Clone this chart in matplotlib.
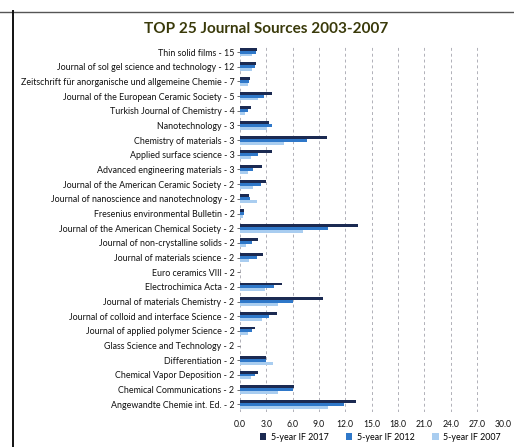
import matplotlib
matplotlib.use("Agg")
import matplotlib.pyplot as plt
from matplotlib.lines import Line2D
import numpy as np

journals = [
    "Thin solid films - 15",
    "Journal of sol gel science and technology - 12",
    "Zeitschrift für anorganische und allgemeine Chemie - 7",
    "Journal of the European Ceramic Society - 5",
    "Turkish Journal of Chemistry - 4",
    "Nanotechnology - 3",
    "Chemistry of materials - 3",
    "Applied surface science - 3",
    "Advanced engineering materials - 3",
    "Journal of the American Ceramic Society - 2",
    "Journal of nanoscience and nanotechnology - 2",
    "Fresenius environmental Bulletin - 2",
    "Journal of the American Chemical Society - 2",
    "Journal of non-crystalline solids - 2",
    "Journal of materials science - 2",
    "Euro ceramics VIII - 2",
    "Electrochimica Acta - 2",
    "Journal of materials Chemistry - 2",
    "Journal of colloid and interface Science - 2",
    "Journal of applied polymer Science - 2",
    "Glass Science and Technology - 2",
    "Differentiation - 2",
    "Chemical Vapor Deposition - 2",
    "Chemical Communications - 2",
    "Angewandte Chemie int. Ed. - 2",
]

if_2017 = [1.9, 1.8, 1.1, 3.6, 1.2, 3.3, 9.9, 3.7, 2.5, 3.0, 1.0, 0.4, 13.4,
           2.1, 2.6, 0.0, 4.8, 9.5, 4.2, 1.7, 0.0, 3.0, 2.1, 6.1, 13.2]
if_2012 = [1.8, 1.7, 1.0, 2.7, 0.9, 3.7, 7.6, 2.1, 1.5, 2.4, 1.1, 0.5, 10.0,
           1.4, 1.9, 0.0, 3.9, 6.0, 3.3, 1.4, 0.0, 3.0, 1.7, 6.0, 11.9]
if_2007 = [1.4, 1.4, 0.9, 2.0, 0.6, 3.1, 5.0, 1.3, 0.9, 1.5, 1.9, 0.3, 7.2,
           0.7, 1.0, 0.0, 2.9, 4.3, 2.5, 0.9, 0.0, 3.8, 1.2, 4.3, 10.0]

series_labels = ["5-year IF 2017", "5-year IF 2012", "5-year IF 2007"]
x_ticks = [0, 3, 6, 9, 12, 15, 18, 21, 24, 27, 30]
title = "TOP 25 Journal Sources 2003-2007"

colors = ["#1b2a52", "#2f78c9", "#a9cdf0"]

plt.rcParams['font.family'] = ['Lato', 'DejaVu Sans']

fig = plt.figure(figsize=(5.14, 4.47), dpi=100)
ax = fig.add_axes([0.467, 0.079, 0.512, 0.821])

y = np.arange(len(journals))
h = 0.2
for k, (vals, c, lab) in enumerate(zip([if_2017, if_2012, if_2007], colors, series_labels)):
    ax.barh(y + (k - 1) * h, vals, height=h, color=c, label=lab, zorder=3)

ax.set_ylim(len(journals) - 0.5, -0.5)
ax.set_xlim(0, 30)
ax.set_yticks(y)
ax.set_yticklabels(journals, fontsize=6.4, color="#111111")
ax.set_xticks(x_ticks)
ax.set_xticklabels([f"{v:.1f}" for v in x_ticks], fontsize=6.2, color="#111111")
ax.tick_params(axis='y', length=2, width=0.6, color="#555555", pad=2)
ax.tick_params(axis='x', length=0, pad=6)
for s in ax.spines.values():
    s.set_visible(False)
ax.xaxis.grid(True, linestyle=(0, (3, 3)), color="#b0b0b8", linewidth=0.7, zorder=0)
ax.set_axisbelow(True)

fig.text(0.517, 0.935, title, ha='center', va='center', fontsize=11,
         fontweight='bold', color="#3a3a0a")

ax.legend(loc='center', bbox_to_anchor=(0.74, 0.022), bbox_transform=fig.transFigure,
          ncol=3, frameon=False, fontsize=6.4, handlelength=0.7, handleheight=0.7,
          columnspacing=2.0, handletextpad=0.5)

# photo page edges
fig.add_artist(Line2D([0.0, 1.0], [0.973, 0.973], transform=fig.transFigure,
                      color="#555555", linewidth=1.0))
fig.add_artist(Line2D([0.026, 0.026], [0.0, 0.975], transform=fig.transFigure,
                      color="#111111", linewidth=1.4))

fig.savefig("out.png", dpi=100, facecolor="white")
